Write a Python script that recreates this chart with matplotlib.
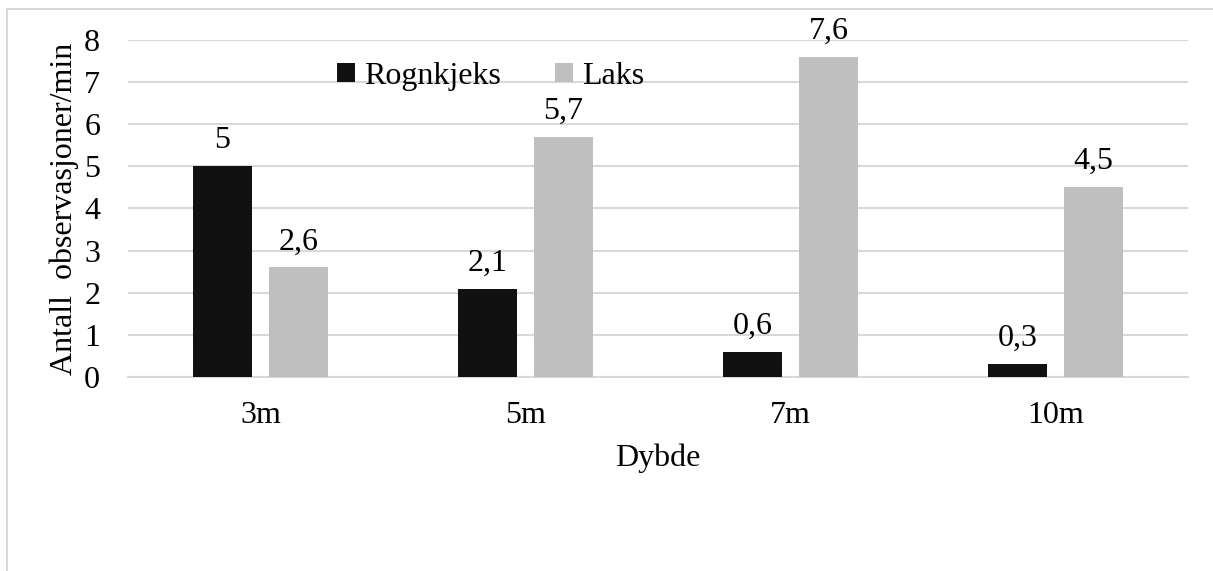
import numpy as np
import matplotlib.pyplot as plt
from matplotlib.patches import Rectangle

FONT = 'Liberation Serif'
plt.rcParams['font.family'] = FONT

depths = ['3m', '5m', '7m', '10m']
rognkjeks = [5.0, 2.1, 0.6, 0.3]
laks = [2.6, 5.7, 7.6, 4.5]
value_labels_r = ['5', '2,1', '0,6', '0,3']
value_labels_l = ['2,6', '5,7', '7,6', '4,5']

fig = plt.figure(figsize=(12.13, 5.71), dpi=100)
ax = fig.add_axes([0.1055, 0.3398, 0.874, 0.5902])

# chart frame, cut off at the right and bottom
fig.patches.append(Rectangle((7 / 1213, -0.1), 1.2, 1 - 9 / 571 + 0.1,
                             transform=fig.transFigure, fill=False,
                             edgecolor='#d9d9d9', linewidth=1.5))

x = np.arange(len(depths))
width = 0.223
offset = 0.143
fs = 23

b1 = ax.bar(x - offset, rognkjeks, width, color='#111111', label='Rognkjeks', zorder=3)
b2 = ax.bar(x + offset, laks, width, color='#bfbfbf', label='Laks', zorder=3)

for bars, labels in [(b1, value_labels_r), (b2, value_labels_l)]:
    for bar, txt in zip(bars, labels):
        ax.annotate(txt, (bar.get_x() + bar.get_width() / 2, bar.get_height()),
                    xytext=(0, 8), textcoords='offset points', ha='center', va='bottom',
                    fontsize=fs, family=FONT)

ax.set_xlim(-0.5, len(depths) - 0.5)
ax.set_ylim(0, 8)
ax.set_yticks(range(0, 9))
ax.set_yticklabels([str(v) for v in range(0, 9)], family=FONT, fontsize=fs)
ax.set_xticks(x)
ax.set_xticklabels(depths, family=FONT, fontsize=fs)
ax.tick_params(axis='both', length=0)
ax.tick_params(axis='y', pad=20)
ax.tick_params(axis='x', pad=17)
ax.grid(axis='y', color='#d9d9d9', linewidth=1.5, zorder=0)
ax.set_axisbelow(True)
for side in ['top', 'right', 'left']:
    ax.spines[side].set_visible(False)
ax.spines['bottom'].set_color('#d9d9d9')
ax.spines['bottom'].set_linewidth(1.5)

ax.set_ylabel('Antall  observasjoner/min', fontsize=fs, family=FONT, labelpad=4)
ax.set_xlabel('Dybde', fontsize=fs, family=FONT, labelpad=10)

ax.legend(loc='upper left', bbox_to_anchor=(0.17, 1.02), ncol=2, frameon=False,
          prop={'family': FONT, 'size': fs}, handlelength=0.55, handleheight=0.55,
          handletextpad=0.3, columnspacing=1.7)

fig.savefig('out.png', dpi=100)
